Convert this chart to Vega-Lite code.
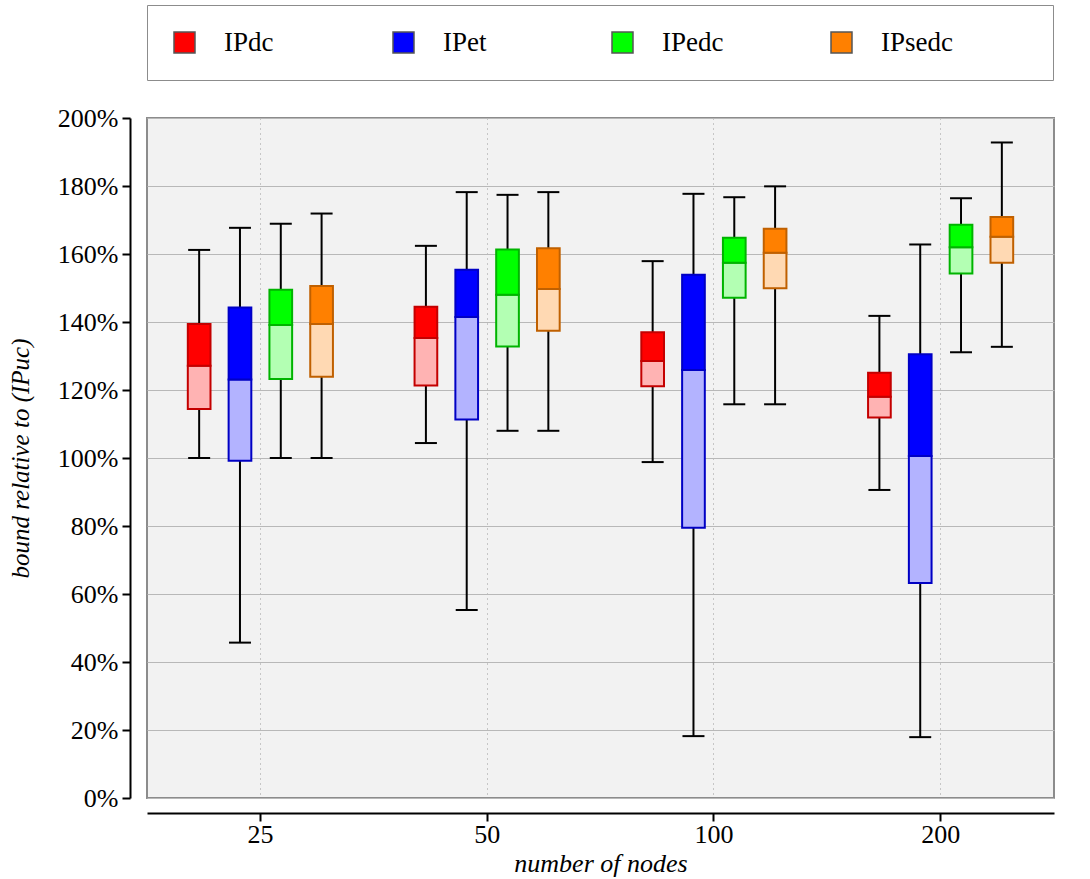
{
  "$schema": "https://vega.github.io/schema/vega-lite/v6.json",
  "width": 907,
  "height": 680,
  "autosize": {"type": "none"},
  "padding": {"left": 147, "top": 118, "right": 36, "bottom": 81},
  "background": "white",
  "data": {
    "values": [
      {"n": 25, "s": "IPdc", "lo": 100, "q1": 114.4, "med": 127.1, "q3": 139.4, "hi": 161.2},
      {"n": 25, "s": "IPet", "lo": 45.7, "q1": 99.2, "med": 123.1, "q3": 144.3, "hi": 167.7},
      {"n": 25, "s": "IPedc", "lo": 100, "q1": 123.2, "med": 139.1, "q3": 149.5, "hi": 168.9},
      {"n": 25, "s": "IPsedc", "lo": 100, "q1": 123.9, "med": 139.4, "q3": 150.6, "hi": 171.9},
      {"n": 50, "s": "IPdc", "lo": 104.4, "q1": 121.3, "med": 135.3, "q3": 144.5, "hi": 162.4},
      {"n": 50, "s": "IPet", "lo": 55.3, "q1": 111.3, "med": 141.5, "q3": 155.4, "hi": 178.2},
      {"n": 50, "s": "IPedc", "lo": 108.0, "q1": 132.8, "med": 148.0, "q3": 161.3, "hi": 177.4},
      {"n": 50, "s": "IPsedc", "lo": 108.0, "q1": 137.4, "med": 149.7, "q3": 161.7, "hi": 178.2},
      {"n": 100, "s": "IPdc", "lo": 98.8, "q1": 121.1, "med": 128.5, "q3": 137.0, "hi": 157.9},
      {"n": 100, "s": "IPet", "lo": 18.2, "q1": 79.5, "med": 125.9, "q3": 153.9, "hi": 177.7},
      {"n": 100, "s": "IPedc", "lo": 115.8, "q1": 147.1, "med": 157.4, "q3": 164.8, "hi": 176.7},
      {"n": 100, "s": "IPsedc", "lo": 115.8, "q1": 149.9, "med": 160.4, "q3": 167.4, "hi": 179.9},
      {"n": 200, "s": "IPdc", "lo": 90.6, "q1": 111.9, "med": 118.0, "q3": 125.1, "hi": 141.8},
      {"n": 200, "s": "IPet", "lo": 17.9, "q1": 63.2, "med": 100.6, "q3": 130.5, "hi": 162.8},
      {"n": 200, "s": "IPedc", "lo": 131.1, "q1": 154.3, "med": 162.0, "q3": 168.6, "hi": 176.4},
      {"n": 200, "s": "IPsedc", "lo": 132.7, "q1": 157.4, "med": 165.1, "q3": 170.9, "hi": 192.8}
    ]
  },
  "encoding": {
    "x": {
      "field": "n",
      "type": "ordinal",
      "scale": {"paddingInner": 0, "paddingOuter": 0},
      "axis": {
        "title": "number of nodes",
        "titleFontStyle": "italic",
        "titleFontWeight": "normal",
        "titleFontSize": 26,
        "titlePadding": 3,
        "labelPadding": 0,
        "labelAngle": 0,
        "offset": 15,
        "bandPosition": 0.5,
        "grid": true,
        "gridDash": [1, 4],
        "gridColor": "#9a9a9a",
        "gridWidth": 1
      }
    },
    "xOffset": {
      "field": "s",
      "type": "nominal",
      "sort": ["IPdc", "IPet", "IPedc", "IPsedc"],
      "scale": {"paddingInner": 0.444, "paddingOuter": 1.22}
    },
    "y": {
      "field": "lo",
      "type": "quantitative",
      "scale": {"domain": [0, 200], "nice": false},
      "axis": {
        "title": "bound relative to (IPuc)",
        "titleFontStyle": "italic",
        "titleFontWeight": "normal",
        "titleFontSize": 25,
        "titlePadding": 24,
        "values": [0, 20, 40, 60, 80, 100, 120, 140, 160, 180, 200],
        "labelExpr": "datum.value + '%'",
        "offset": 17,
        "grid": true,
        "gridColor": "#b8b8b8",
        "gridWidth": 1
      }
    }
  },
  "layer": [
    {
      "mark": {"type": "rule", "color": "black", "strokeWidth": 2},
      "encoding": {"y": {"field": "lo", "type": "quantitative"}, "y2": {"field": "hi"}}
    },
    {
      "mark": {"type": "tick", "orient": "horizontal", "color": "black", "thickness": 2, "size": 22, "opacity": 1},
      "encoding": {"y": {"field": "lo", "type": "quantitative"}}
    },
    {
      "mark": {"type": "tick", "orient": "horizontal", "color": "black", "thickness": 2, "size": 22, "opacity": 1},
      "encoding": {"y": {"field": "hi", "type": "quantitative"}}
    },
    {
      "mark": {"type": "bar", "strokeWidth": 2, "fillOpacity": 1},
      "encoding": {
        "y": {"field": "q1", "type": "quantitative"},
        "y2": {"field": "med"},
        "fill": {
          "field": "s",
          "type": "nominal",
          "scale": {"domain": ["IPdc", "IPet", "IPedc", "IPsedc"], "range": ["#ffb3b3", "#b3b3ff", "#b3ffb3", "#ffd9b3"]},
          "legend": null
        },
        "stroke": {
          "field": "s",
          "type": "nominal",
          "scale": {"domain": ["IPdc", "IPet", "IPedc", "IPsedc"], "range": ["#c40000", "#0000c4", "#00b400", "#c06000"]},
          "legend": null
        }
      }
    },
    {
      "mark": {"type": "bar", "strokeWidth": 2, "fillOpacity": 1},
      "encoding": {
        "y": {"field": "med", "type": "quantitative"},
        "y2": {"field": "q3"},
        "fill": {
          "field": "s",
          "type": "nominal",
          "scale": {"domain": ["IPdc", "IPet", "IPedc", "IPsedc"], "range": ["#ff0000", "#0000ff", "#00ff00", "#ff8000"]},
          "legend": {
            "title": "\u00a0",
            "titleOrient": "right",
            "titlePadding": 76,
            "titleFontSize": 8,
            "orient": "none",
            "legendX": 0,
            "legendY": -113,
            "direction": "horizontal",
            "columns": 4,
            "gridAlign": "all",
            "columnPadding": 94,
            "padding": 24,
            "fillColor": "white",
            "strokeColor": "#8c8c8c",
            "symbolType": "square",
            "symbolSize": 441,
            "symbolStrokeColor": "#555555",
            "symbolStrokeWidth": 1.5,
            "symbolOpacity": 1,
            "labelFontSize": 27,
            "labelOffset": 26,
            "labelColor": "black"
          }
        },
        "stroke": {
          "field": "s",
          "type": "nominal",
          "scale": {"domain": ["IPdc", "IPet", "IPedc", "IPsedc"], "range": ["#c40000", "#0000c4", "#00b400", "#c06000"]},
          "legend": null
        }
      }
    }
  ],
  "resolve": {"scale": {"fill": "independent"}},
  "config": {
    "font": "Liberation Serif",
    "view": {"fill": "#f2f2f2", "stroke": "#8c8c8c", "strokeWidth": 2},
    "axis": {
      "labelFont": "Liberation Serif",
      "labelFontSize": 26,
      "labelColor": "black",
      "titleFont": "Liberation Serif",
      "titleColor": "black",
      "domainColor": "black",
      "domainWidth": 2,
      "tickColor": "black",
      "tickWidth": 2,
      "tickSize": 8,
      "labelPadding": 4
    },
    "legend": {"labelFont": "Liberation Serif"}
  }
}
